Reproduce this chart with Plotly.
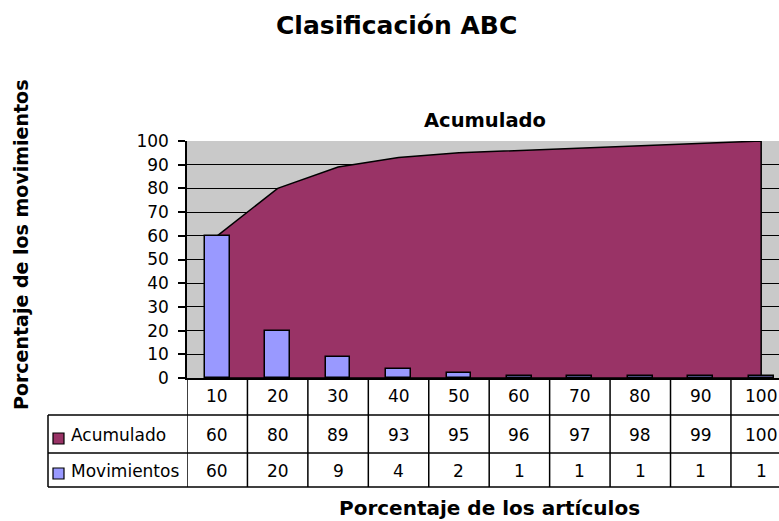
import plotly.graph_objects as go

# ---- data ----
categorias = ['10', '20', '30', '40', '50', '60', '70', '80', '90', '100']
acumulado = [60, 80, 89, 93, 95, 96, 97, 98, 99, 100]
movimientos = [60, 20, 9, 4, 2, 1, 1, 1, 1, 1]
yticks = list(range(0, 101, 10))
ygrid = list(range(10, 100, 10))

titulo = 'Clasificación ABC'
subtitulo = 'Acumulado'
titulo_x = 'Porcentaje de los artículos'
titulo_y = 'Porcentaje de los movimientos'
serie_acum = 'Acumulado'
serie_mov = 'Movimientos'

# ---- style / layout ----
W, H = 779, 521
L, R, T, B = 187, 0, 141, 521 - 378
PW, PH = W - L - R, H - T - B
C_AREA = '#993366'
C_BAR = '#9999FF'
BG = '#c9c9c9'
FONT = 'DejaVu Sans'


def px_x(p):
    return (p - L) / PW


def px_y(p):
    return (H - B - p) / PH


fig = go.Figure()

# area (closed polygon so the right edge gets its outline)
fig.add_trace(go.Scatter(
    x=categorias + [categorias[-1], categorias[0]],
    y=acumulado + [0, 0],
    fill='toself', fillcolor=C_AREA,
    line=dict(color='black', width=1.5),
    mode='lines', name=serie_acum, showlegend=False, hoverinfo='skip',
    yaxis='y'))

# bars on an overlaying axis so that they are drawn above the area
fig.add_trace(go.Bar(
    x=categorias, y=movimientos, width=0.41,
    marker=dict(color=C_BAR, line=dict(color='black', width=1.5)),
    name=serie_mov, showlegend=False, yaxis='y2'))

fig.update_layout(
    width=W, height=H,
    margin=dict(l=L, r=R, t=T, b=B, pad=0),
    paper_bgcolor='white', plot_bgcolor=BG,
    showlegend=False,
    font=dict(family=FONT, size=16, color='black'),
    xaxis=dict(type='category', categoryorder='array', categoryarray=categorias,
               range=[-0.5, 9.295], showline=True, linecolor='black', linewidth=1.5,
               showgrid=False, ticks='', showticklabels=False, zeroline=False,
               fixedrange=True),
    yaxis=dict(range=[0, 100], tickvals=yticks, ticks='outside', ticklen=7,
               tickcolor='black', tickwidth=1.5, showline=True, linecolor='black',
               linewidth=1.5, showgrid=False,
               zeroline=False, ticklabelstandoff=6,
               tickfont=dict(family=FONT, size=17, color='black')),
    yaxis2=dict(range=[0, 100], overlaying='y', tickvals=ygrid, showgrid=True,
                gridcolor='black', gridwidth=1, showticklabels=False, ticks='',
                showline=False, zeroline=False),
    bargap=0,
)

shapes = []
annotations = []
LW = 1.5
# table horizontal lines
for py in [415, 453, 487]:
    shapes.append(dict(type='line', xref='paper', yref='paper',
                       x0=px_x(48), x1=1.0, y0=px_y(py), y1=px_y(py),
                       line=dict(color='black', width=LW)))
# left border of row label column
shapes.append(dict(type='line', xref='paper', yref='paper',
                   x0=px_x(48), x1=px_x(48), y0=px_y(415), y1=px_y(487),
                   line=dict(color='black', width=LW)))
# vertical lines at category boundaries
for i in range(len(categorias)):
    shapes.append(dict(type='line', xref='x', yref='paper',
                       x0=i - 0.5, x1=i - 0.5, y0=px_y(378), y1=px_y(487),
                       line=dict(color='black', width=LW)))

# header and values (x given as category index)
rows = [(categorias, 395.5), ([str(v) for v in acumulado], 435),
        ([str(v) for v in movimientos], 471)]
for vals, py in rows:
    for i, v in enumerate(vals):
        annotations.append(dict(x=i, xref='x', y=px_y(py), yref='paper',
                                text=v, showarrow=False, xanchor='center',
                                yanchor='middle',
                                font=dict(family=FONT, size=17, color='black')))

# legend keys and labels
for name, color, ytop, ycen in [(serie_acum, C_AREA, 433, 435), (serie_mov, C_BAR, 468, 471)]:
    shapes.append(dict(type='rect', xref='paper', yref='paper',
                       x0=px_x(53), x1=px_x(64), y0=px_y(ytop), y1=px_y(ytop + 11),
                       fillcolor=color, line=dict(color='black', width=1.2)))
    annotations.append(dict(x=px_x(69), xref='paper', y=px_y(ycen), yref='paper',
                            text=name, showarrow=False, xanchor='left', yanchor='middle',
                            font=dict(family=FONT, size=17, color='black')))

# titles
annotations.append(dict(x=px_x(396), y=px_y(25), xref='paper', yref='paper',
                        text='<b>' + titulo + '</b>', showarrow=False,
                        xanchor='center', yanchor='middle',
                        font=dict(family=FONT, size=25, color='black')))
annotations.append(dict(x=px_x(485), y=px_y(120), xref='paper', yref='paper',
                        text='<b>' + subtitulo + '</b>', showarrow=False,
                        xanchor='center', yanchor='middle',
                        font=dict(family=FONT, size=19.5, color='black')))
annotations.append(dict(x=px_x(489), y=px_y(508), xref='paper', yref='paper',
                        text='<b>' + titulo_x + '</b>', showarrow=False,
                        xanchor='center', yanchor='middle',
                        font=dict(family=FONT, size=20, color='black')))
annotations.append(dict(x=px_x(21), y=px_y(245), xref='paper', yref='paper',
                        text='<b>' + titulo_y + '</b>', showarrow=False,
                        textangle=-90, xanchor='center', yanchor='middle',
                        font=dict(family=FONT, size=19, color='black')))

fig.update_layout(shapes=shapes, annotations=annotations)
fig.write_html('out.html', config={'displayModeBar': False},
               post_script="document.body.style.margin='0';")
